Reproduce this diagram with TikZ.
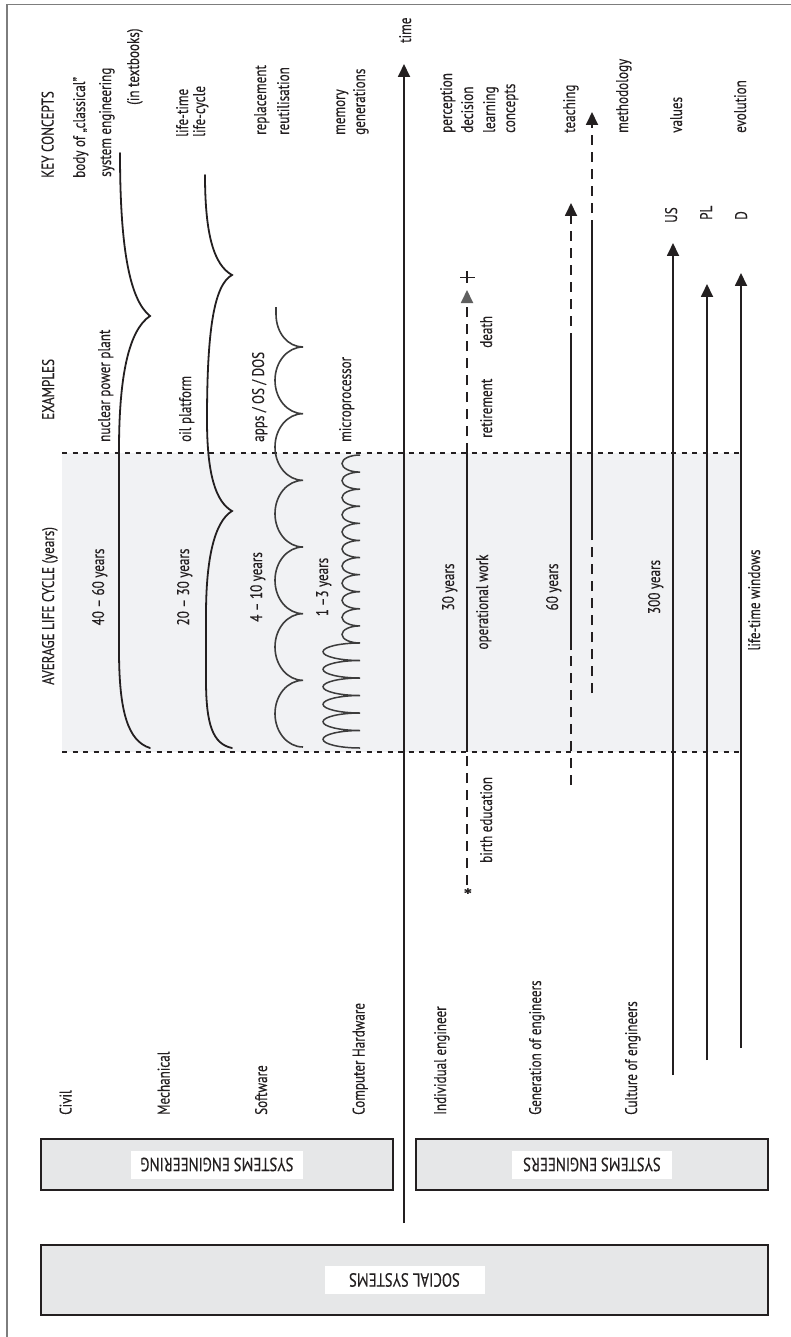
\documentclass[tikz,border=0pt]{standalone}
\usepackage{fontspec}
\setmainfont{PT Sans}[FakeStretch=0.78, FakeBold=0.3]
\usetikzlibrary{arrows.meta}
\definecolor{ink}{RGB}{35,31,32}
\definecolor{shadearea}{RGB}{241,242,244}
\definecolor{boxgray}{RGB}{230,231,232}
\definecolor{framegray}{RGB}{125,125,125}
\definecolor{tipgray}{RGB}{95,95,95}
\definecolor{curvegray}{RGB}{60,60,60}
\newcommand{\lblfont}{\fontsize{16.8}{19}\selectfont}
\newcommand{\boxfont}{\fontsize{19}{22}\selectfont}
\tikzset{
  txt/.style={rotate=90, inner sep=0pt, font=\lblfont, text=ink},
  txtstart/.style={txt, anchor=base west},
  txtmid/.style={txt, anchor=base},
  boxlabel/.style={rotate=180, fill=white, inner sep=0pt, minimum height=28pt, font=\boxfont, text=ink},
  panel/.style={draw=ink, line width=2pt, fill=boxgray, inner sep=0pt},
  solidline/.style={draw=ink, line width=1.8pt},
  longdash/.style={draw=ink, line width=1.8pt, dash pattern=on 10pt off 7pt},
  shortdash/.style={draw=ink, line width=2.2pt, dash pattern=on 5pt off 5.5pt},
  tip/.style={-{Triangle[length=13pt,width=12pt]}},
  greytip/.style={-{Triangle[length=13pt,width=12pt,color=tipgray]}},
  brace/.style={draw=ink, line width=1.8pt, line cap=round},
  wave/.style={draw=curvegray, line width=1.6pt},
}
\begin{document}
\begin{tikzpicture}[x=1pt, y=-1pt]
\useasboundingbox (0,0) rectangle (791,1337);
\fill[white] (0,0) rectangle (791,1337);

% outer frame
\draw[framegray, line width=1.6pt] (7,1337) -- (7,4.5) -- (791,4.5);

% shaded window of the average life cycle
\fill[shadearea] (62,453) rectangle (740,752);
\draw[shortdash] (62,453) -- (740,453);
\draw[shortdash] (62,752) -- (740,752);

% ---------- headers ----------
\node[txtstart] (kc)  at (53.5,178) {KEY CONCEPTS};
\node[txtstart] (exm) at (54,420)   {EXAMPLES};
\node[txtstart] (alc) at (54,685)   {AVERAGE LIFE CYCLE (years)};

% ---------- row names ----------
\node[txtstart] (civ)  at (71.5,1115) {Civil};
\node[txtstart] (mech) at (169.5,1115) {Mechanical};
\node[txtstart] (soft) at (267,1115) {Software};
\node[txtstart] (hw)   at (364.5,1115) {Computer Hardware};
\node[txtstart] (ind)  at (446,1115) {Individual engineer};
\node[txtstart] (gen)  at (541,1115) {Generation of engineers};
\node[txtstart] (cul)  at (637,1115) {Culture of engineers};

% ---------- durations ----------
\node[txtmid] (d1) at (104,587) {40 -- 60 years};
\node[txtmid] (d2) at (189,587) {20 -- 30 years};
\node[txtmid] (d3) at (262,587) {4 -- 10 years};
\node[txtmid] (d4) at (328,587) {1\,--3 years};
\node[txtmid] (d5) at (454,587) {30 years};
\node[txtmid] (d6) at (558,587) {60 years};
\node[txtmid] (d7) at (660,587) {300 years};
\node[txtmid] (ow) at (488,602) {operational work};
\node[txtmid] (lw) at (760,600) {life-time windows};

% ---------- examples ----------
\node[txtstart] (e1) at (110,442) {nuclear power plant};
\node[txtstart] (e2) at (191,442) {oil platform};
\node[txtstart] (e3) at (264,442) {apps / OS / DOS};
\node[txtstart] (e4) at (351,442) {microprocessor};

% ---------- key concepts ----------
\node[txtstart] (k1a) at (85,178)  {body of „classical”};
\node[txtstart] (k1b) at (111,177) {system engineering};
\node[txtstart] (k1c) at (139,105) {(in textbooks)};
\node[txtstart] (k2a) at (188,137) {life-time};
\node[txtstart] (k2b) at (205,137) {life-cycle};
\node[txtstart] (k3a) at (266,135) {replacement};
\node[txtstart] (k3b) at (289,135) {reutilisation};
\node[txtstart] (k4a) at (345,135) {memory};
\node[txtstart] (k4b) at (365,135) {generations};
\node[txtstart] (k5a) at (452,133) {perception};
\node[txtstart] (k5b) at (473,133) {decision};
\node[txtstart] (k5c) at (495,133) {learning};
\node[txtstart] (k5d) at (515,133) {concepts};
\node[txtstart] (k6)  at (575,133) {teaching};
\node[txtstart] (k7)  at (628,133) {methodology};
\node[txtstart] (k8)  at (682,133) {values};
\node[txtstart] (k9)  at (746,133) {evolution};
\node[txtstart] (us)  at (677,223) {US};
\node[txtstart] (pl)  at (712,220) {PL};
\node[txtstart] (de)  at (747,220) {D};

% ---------- individual engineer milestones ----------
\node[txtstart] (ret)   at (492,438) {retirement};
\node[txtstart] (dth)   at (492,348) {death};
\node[txtstart] (birth) at (492,863) {birth education};
\node[txt, anchor=base, font=\fontsize{26}{26}\selectfont] (star) at (483,891) {*};
\draw[ink, line width=1.8pt] (460,277.5) -- (475,277.5);
\draw[ink, line width=1.8pt] (467,271.5) -- (467,283.5);

% ---------- time axis ----------
\coordinate (t0) at (404,1223);
\coordinate (t1) at (404,64);
\draw[solidline, tip] (t0) -- (t1);
\node[txtstart] (time) at (411,43) {time};

% ---------- individual engineer ----------
\coordinate (i0) at (467,885);
\coordinate (i1) at (467,752);
\coordinate (i2) at (467,453);
\coordinate (i3) at (467,290);
\draw[longdash] (i0) -- (i1);
\draw[solidline] (i1) -- (i2);
\draw[longdash, greytip] (i2) -- (i3);

% ---------- generation of engineers ----------
\coordinate (a0) at (571,785);
\coordinate (a1) at (571,650);
\coordinate (a2) at (571,343);
\coordinate (a3) at (571,203);
\draw[longdash] (a0) -- (a1);
\draw[solidline] (a1) -- (a2);
\draw[longdash, tip] (a2) -- (a3);
\coordinate (b0) at (592,693);
\coordinate (b1) at (592,540);
\coordinate (b2) at (592,230);
\coordinate (b3) at (592,112);
\draw[longdash] (b0) -- (b1);
\draw[solidline] (b1) -- (b2);
\draw[longdash, tip] (b2) -- (b3);

% ---------- culture of engineers ----------
\coordinate (u0) at (673,1075);
\coordinate (u1) at (673,243);
\coordinate (p0) at (707,1060);
\coordinate (p1) at (707,284);
\coordinate (g0) at (741,1048);
\coordinate (g1) at (741,273);
\draw[solidline, tip] (u0) -- (u1);
\draw[solidline, tip] (p0) -- (p1);
\draw[solidline, tip] (g0) -- (g1);

% ---------- civil brace ----------
\draw[brace] (120,153) .. controls (120,250) and (130,300) .. (150,316)
  .. controls (129,330) and (119,375) .. (119,450)
  -- (119,650) .. controls (119,712) and (128,741) .. (150,748);

% ---------- mechanical double brace ----------
\draw[brace] (205,175) .. controls (205,235) and (214,265) .. (232,275)
  .. controls (214,285) and (207,330) .. (207,420)
  .. controls (207,475) and (216,502) .. (232,511)
  .. controls (214,522) and (206,560) .. (206,615)
  -- (206,680) .. controls (206,725) and (213,744) .. (232,748);

% ---------- software scallops ----------
\draw[wave] (276,307) -- (276,314) .. controls (276,333) and (288,347) .. (303,347)
  \foreach \c in {347,413.67,480.33,547,613.67,680.33} {
    .. controls ({287.5},{\c}) and ({275},{\c+14.8}) .. ({275},{\c+33.33})
    .. controls ({275},{\c+51.8}) and ({287.5},{\c+66.67}) .. ({303},{\c+66.67})
  };

% ---------- hardware coil ----------
\draw[wave, line width=1.5pt] (360,455)
  \foreach \i in {0,...,10} {
    .. controls ({350},{455+17.09*\i}) and ({342},{455+17.09*\i+3.8}) .. ({342},{455+17.09*\i+8.55})
    .. controls ({342},{455+17.09*\i+13.3}) and ({350},{455+17.09*(\i+1)}) .. ({360},{455+17.09*(\i+1)})
  }
  \foreach \i in {0,...,5} {
    .. controls ({340},{643+17.5*\i}) and ({323},{643+17.5*\i+3.9}) .. ({323},{643+17.5*\i+8.75})
    .. controls ({323},{643+17.5*\i+13.6}) and ({340},{643+17.5*(\i+1)}) .. ({360},{643+17.5*(\i+1)})
  };

% ---------- panels ----------
\node[panel, minimum width=352pt, minimum height=51pt] (se) at (217,1164.5) {};
\node[boxlabel, minimum width=172pt] (selbl) at (se.center) {SYSTEMS ENGINEERING};
\node[panel, minimum width=352pt, minimum height=51pt] (seng) at (592,1164.5) {};
\node[boxlabel, minimum width=160pt] (senglbl) at (seng.center) {SYSTEMS ENGINEERS};
\node[panel, minimum width=727pt, minimum height=70pt] (soc) at (404.5,1280) {};
\node[boxlabel, minimum width=160pt] (soclbl) at (soc.center) {SOCIAL SYSTEMS};
\end{tikzpicture}
\end{document}
